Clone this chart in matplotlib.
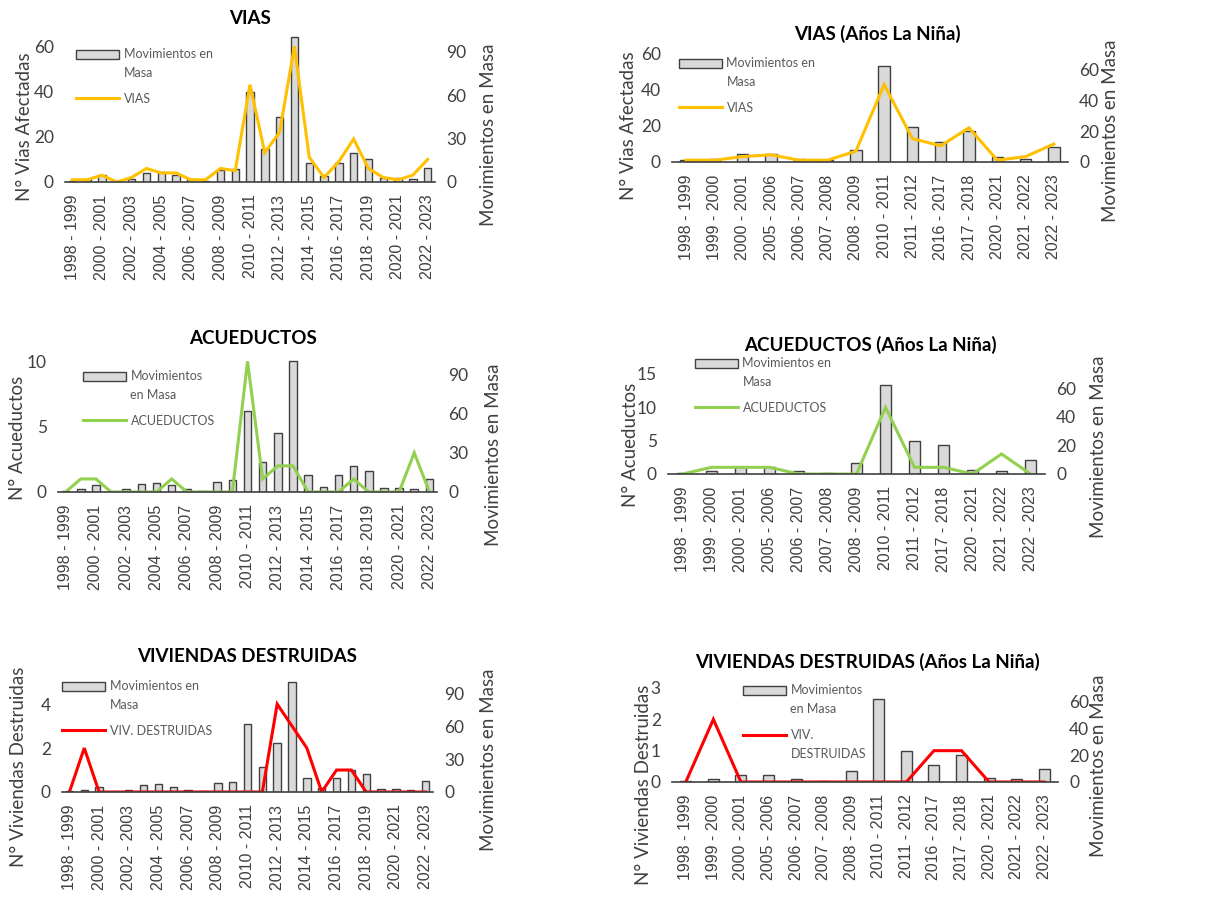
import matplotlib
matplotlib.use('Agg')
import matplotlib.pyplot as plt
from matplotlib.patches import Patch
from matplotlib.lines import Line2D
from matplotlib.legend_handler import HandlerPatch, HandlerLine2D

plt.rcParams['font.family'] = ['Lato', 'DejaVu Sans']

# datos por periodo (1998-1999 ... 2022-2023)
periodos = ['1998 - 1999', '1999 - 2000', '2000 - 2001', '2001 - 2002', '2002 - 2003',
            '2003 - 2004', '2004 - 2005', '2005 - 2006', '2006 - 2007', '2007 - 2008',
            '2008 - 2009', '2009 - 2010', '2010 - 2011', '2011 - 2012', '2012 - 2013',
            '2013 - 2014', '2014 - 2015', '2015 - 2016', '2016 - 2017', '2017 - 2018',
            '2018 - 2019', '2019 - 2020', '2020 - 2021', '2021 - 2022', '2022 - 2023']
movimientos = [1, 2, 5, 0, 2, 6, 7, 5, 2, 1, 8, 9, 62, 23, 45, 100, 13, 4, 13, 20, 16, 3, 3, 2, 10]
vias = [1, 1, 3, 0, 2, 6, 4, 4, 1, 1, 6, 5, 43, 13, 22, 60, 11, 2, 9, 19, 6, 2, 1, 3, 10]
acueductos = [0, 1, 1, 0, 0, 0, 0, 1, 0, 0, 0, 0, 10, 1, 2, 2, 0, 0, 0, 1, 0, 0, 0, 3, 0]
viviendas = [0, 2, 0, 0, 0, 0, 0, 0, 0, 0, 0, 0, 0, 0, 4, 3, 2, 0, 1, 1, 0, 0, 0, 0, 0]

# años La Niña
nina = ['1998 - 1999', '1999 - 2000', '2000 - 2001', '2005 - 2006', '2006 - 2007',
        '2007 - 2008', '2008 - 2009', '2010 - 2011', '2011 - 2012', '2016 - 2017',
        '2017 - 2018', '2020 - 2021', '2021 - 2022', '2022 - 2023']
nina_acueductos = [p for p in nina if p != '2016 - 2017']

W, H = 1207, 901
fig = plt.figure(figsize=(W / 100, H / 100), dpi=100)

GRIS = '#404040'
LEG_FS = 9
LEG_SHIFT = 0.78


class ShiftPatch(HandlerPatch):
    def __init__(self, shift=0.0, **kw):
        super().__init__(**kw)
        self.shift = shift

    def create_artists(self, legend, orig_handle, xdescent, ydescent, width, height, fontsize, trans):
        return super().create_artists(legend, orig_handle, xdescent, ydescent - self.shift * fontsize,
                                      width, height, fontsize, trans)


class ShiftLine(HandlerLine2D):
    def __init__(self, shift=0.0, **kw):
        super().__init__(**kw)
        self.shift = shift

    def create_artists(self, legend, orig_handle, xdescent, ydescent, width, height, fontsize, trans):
        return super().create_artists(legend, orig_handle, xdescent, ydescent - 2 * self.shift * fontsize,
                                      width, height, fontsize, trans)


def panel(box, cats, serie, color, ylim, yticks, mov_lim, mov_ticks, ylabel,
          lab_l, lab_r, title, title_xy, leg_xy, leg_labels, step, bar_w):
    x0, y0, x1, y1 = box
    ax = fig.add_axes([x0 / W, 1 - y1 / H, (x1 - x0) / W, (y1 - y0) / H])
    ax2 = ax.twinx()
    ax.set_zorder(ax2.get_zorder() + 1)
    ax.patch.set_visible(False)

    idx = [periodos.index(c) for c in cats]
    xs = list(range(len(cats)))
    ax2.bar(xs, [movimientos[i] for i in idx], width=bar_w, color='#d9d9d9',
            edgecolor=GRIS, linewidth=1)
    ax.plot(xs, [serie[i] for i in idx], color=color, lw=2.2, solid_joinstyle='miter')

    ax.set_xlim(-0.5, len(cats) - 0.5)
    ax.set_ylim(*ylim)
    ax2.set_ylim(*mov_lim)
    ax.set_yticks(yticks)
    ax2.set_yticks(mov_ticks)
    ax.set_xticks(xs[::step])
    ax.set_xticklabels(cats[::step], rotation=90, family=['Liberation Sans', 'DejaVu Sans'])

    for s in ax.spines.values():
        s.set_visible(False)
    for s in ax2.spines.values():
        s.set_visible(False)
    ax.spines['bottom'].set_visible(True)
    ax.spines['bottom'].set_color(GRIS)
    ax.spines['bottom'].set_linewidth(1.2)

    ax.tick_params(axis='y', length=0, pad=8, labelsize=12.5, labelcolor=GRIS)
    ax2.tick_params(axis='y', length=0, pad=8, labelsize=12.5, labelcolor=GRIS)
    ax.tick_params(axis='x', length=0, pad=9, labelsize=11.5, labelcolor=GRIS)

    ax.set_ylabel(ylabel, fontsize=13.5, color=GRIS)
    ax.yaxis.set_label_coords(lab_l[0] / W, 1 - lab_l[1] / H, transform=fig.transFigure)
    ax2.set_ylabel('Movimientos en Masa', fontsize=13.5, color=GRIS)
    ax2.yaxis.set_label_coords(lab_r[0] / W, 1 - lab_r[1] / H, transform=fig.transFigure)

    fig.text(title_xy[0] / W, 1 - title_xy[1] / H, title, ha='center', va='center',
             fontsize=13.5, fontweight='bold', color='black')

    h_bar = Patch(facecolor='#d9d9d9', edgecolor=GRIS, linewidth=1)
    h_line = Line2D([], [], color=color, lw=2.2)
    shifts = [LEG_SHIFT if '\n' in lbl else 0.0 for lbl in leg_labels]
    leg = ax.legend([h_bar, h_line], leg_labels, loc='upper left',
                    bbox_to_anchor=(leg_xy[0] / W, 1 - leg_xy[1] / H),
                    bbox_transform=fig.transFigure, frameon=False, fontsize=LEG_FS,
                    handlelength=3.4, handleheight=0.8, handletextpad=0.4,
                    borderpad=0, borderaxespad=0, labelspacing=1.1,
                    handler_map={h_bar: ShiftPatch(shifts[0]), h_line: ShiftLine(shifts[1])})
    for t in leg.get_texts():
        t.set_color('#595959')
        t.set_linespacing(1.72)


panel((65, 35, 435, 182), periodos, vias, '#ffc000', (0, 65), [0, 20, 40, 60],
      (0, 101.5), [0, 30, 60, 90], 'N° Vias Afectadas', (33, 127), (480, 135),
      'VIAS', (250, 18), (76, 48), ['Movimientos en\nMasa', 'VIAS'], 2, 0.5)
panel((672, 54, 1068, 162), nina, vias, '#ffc000', (0, 60), [0, 20, 40, 60],
      (0, 70), [0, 20, 40, 60], 'N° Vias Afectadas', (637, 126), (1102, 131),
      'VIAS (Años La Niña)', (877, 34), (679, 57), ['Movimientos en\nMasa', 'VIAS'], 1, 0.4)

panel((58, 360, 437, 492), periodos, acueductos, '#92d050', (0, 10.1), [0, 5, 10],
      (0, 101), [0, 30, 60, 90], 'N° Acueductos', (26, 438), (485, 455),
      'ACUEDUCTOS', (253, 339), (83, 370), ['Movimientos\nen Masa', 'ACUEDUCTOS'], 2, 0.5)
panel((668, 374, 1045, 474), nina_acueductos, acueductos, '#92d050', (0, 15),
      [0, 5, 10, 15], (0, 70), [0, 20, 40, 60], 'N° Acueductos', (639, 445), (1090, 447),
      'ACUEDUCTOS (Años La Niña)', (870, 345), (695, 357), ['Movimientos en\nMasa', 'ACUEDUCTOS'], 1, 0.4)

panel((62, 681, 433, 792), periodos, viviendas, '#ff0000', (0, 5.05), [0, 2, 4],
      (0, 101), [0, 30, 60, 90], 'N° Viviendas Destruidas', (27, 767), (480, 760),
      'VIVIENDAS DESTRUIDAS', (247, 656), (62, 680), ['Movimientos en\nMasa', 'VIV. DESTRUIDAS'], 2, 0.5)
panel((672, 688, 1058, 782), nina, viviendas, '#ff0000', (0, 3), [0, 1, 2, 3],
      (0, 70), [0, 20, 40, 60], 'N° Viviendas Destruidas', (652, 785), (1090, 766),
      'VIVIENDAS DESTRUIDAS (Años La Niña)', (867, 662), (743, 684),
      ['Movimientos\nen Masa', 'VIV.\nDESTRUIDAS'], 1, 0.4)

fig.savefig('out.png', dpi=100)
